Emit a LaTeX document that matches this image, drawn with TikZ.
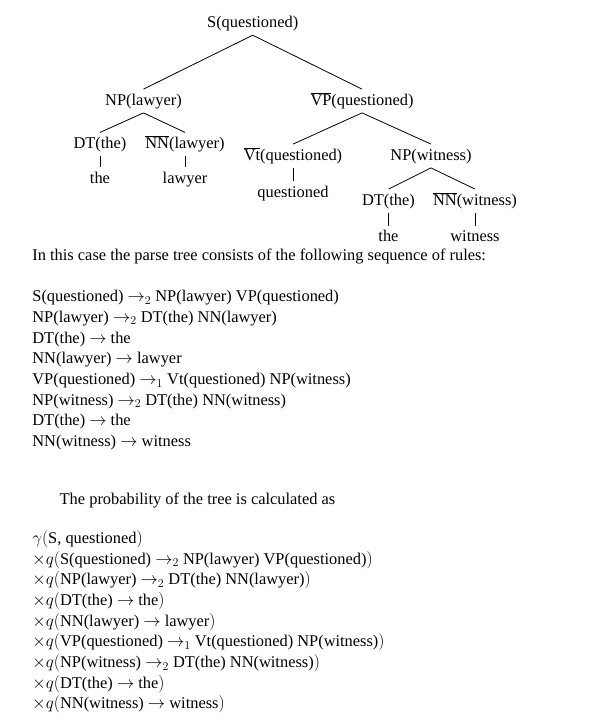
\documentclass[tikz,border=0pt]{standalone}
\usepackage[no-math]{fontspec}
\setmainfont{Liberation Serif}

\begin{document}
\fontsize{16.4}{20.7}\selectfont
\begin{tikzpicture}[x=1pt, y=-1pt, line width=0.8pt,
  tnode/.style={anchor=base, inner xsep=0pt, inner ysep=4pt, text height=11.5pt, text depth=3.5pt},
  line/.style={anchor=base west, inner sep=0pt}]

% frame
\useasboundingbox (0,0) rectangle (603,725);

% tree nodes
\node[tnode] (s) at (252.7,27.3) {S(questioned)};
\node[tnode] (np1) at (143.5,105) {NP(lawyer)};
\node[tnode] (vp) at (362,105) {$\overline{\mbox{VP}}$(questioned)};
\node[tnode] (dt1) at (100,148.3) {DT(the)};
\node[tnode] (nn1) at (185,148.3) {$\overline{\mbox{NN}}$(lawyer)};
\node[tnode] (vt) at (293,160) {$\overline{\mbox{Vt}}$(questioned)};
\node[tnode] (np2) at (431,160) {NP(witness)};
\node[tnode] (the1) at (100,183.3) {the};
\node[tnode] (lawyer) at (185,183.3) {lawyer};
\node[tnode] (quest) at (293,197) {questioned};
\node[tnode] (dt2) at (388.5,205) {DT(the)};
\node[tnode] (nn2) at (475,205) {$\overline{\mbox{NN}}$(witness)};
\node[tnode] (the2) at (388.5,241.7) {the};
\node[tnode] (witness) at (475,241.7) {witness};

% tree edges
\draw (s.south) -- (np1.north);
\draw (s.south) -- (vp.north);
\draw (np1.south) -- (dt1.north);
\draw (np1.south) -- (nn1.north);
\draw (vp.south) -- (vt.north);
\draw (vp.south) -- (np2.north);
\draw (dt1.south) -- (the1.north);
\draw (nn1.south) -- (lawyer.north);
\draw (vt.south) -- (quest.north);
\draw (np2.south) -- (dt2.north);
\draw (np2.south) -- (nn2.north);
\draw (dt2.south) -- (the2.north);
\draw (nn2.south) -- (witness.north);

% rules
\node[line] (intro) at (32,260.7) {In this case the parse tree consists of the following sequence of rules:};
\node[line] (r1) at (32,301.7) {S(questioned) $\rightarrow_2$ NP(lawyer) VP(questioned)};
\node[line] (r2) at (32,322.4) {NP(lawyer) $\rightarrow_2$ DT(the) NN(lawyer)};
\node[line] (r3) at (32,343.1) {DT(the) $\rightarrow$ the};
\node[line] (r4) at (32,363.8) {NN(lawyer) $\rightarrow$ lawyer};
\node[line] (r5) at (32,384.5) {VP(questioned) $\rightarrow_1$ Vt(questioned) NP(witness)};
\node[line] (r6) at (32,405.2) {NP(witness) $\rightarrow_2$ DT(the) NN(witness)};
\node[line] (r7) at (32,425.9) {DT(the) $\rightarrow$ the};
\node[line] (r8) at (32,446.6) {NN(witness) $\rightarrow$ witness};

% probability
\node[line] (prob) at (59.3,504) {The probability of the tree is calculated as};
\node[line] (p0) at (32,543.3) {$\gamma($S, questioned$)$};
\node[line] (p1) at (32,564) {$\times q($S(questioned) $\rightarrow_2$ NP(lawyer) VP(questioned)$)$};
\node[line] (p2) at (32,584.7) {$\times q($NP(lawyer) $\rightarrow_2$ DT(the) NN(lawyer)$)$};
\node[line] (p3) at (32,605.4) {$\times q($DT(the) $\rightarrow$ the$)$};
\node[line] (p4) at (32,626.1) {$\times q($NN(lawyer) $\rightarrow$ lawyer$)$};
\node[line] (p5) at (32,646.8) {$\times q($VP(questioned) $\rightarrow_1$ Vt(questioned) NP(witness)$)$};
\node[line] (p6) at (32,667.5) {$\times q($NP(witness) $\rightarrow_2$ DT(the) NN(witness)$)$};
\node[line] (p7) at (32,688.2) {$\times q($DT(the) $\rightarrow$ the$)$};
\node[line] (p8) at (32,708.9) {$\times q($NN(witness) $\rightarrow$ witness$)$};

\end{tikzpicture}
\end{document}
